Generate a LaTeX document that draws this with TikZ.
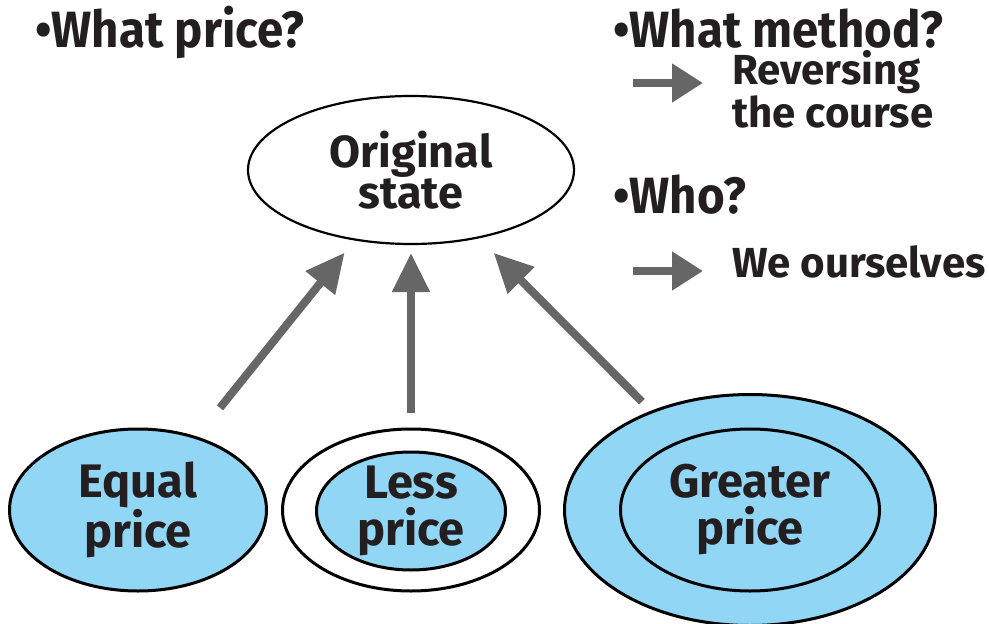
\documentclass[tikz,border=0pt]{standalone}
\usepackage{fontspec}
\setmainfont{Fira Sans}
\newfontfamily\headfont{Fira Sans}[FakeStretch=0.93]
\usetikzlibrary{arrows.meta,shapes.geometric}

\definecolor{inkdark}{HTML}{231F20}
\definecolor{arrowgray}{HTML}{666666}
\definecolor{bubbleblue}{HTML}{92D6F6}

\tikzset{
  bubble/.style={ellipse,draw=black,line width=3pt,inner sep=0pt},
  bubbletext/.style={font=\fontsize{47}{47}\selectfont\bfseries,text=inkdark,align=center,inner sep=0pt},
  headtext/.style={font=\headfont\fontsize{51}{51}\selectfont\bfseries,text=inkdark,inner sep=0pt,anchor=base west},
  answertext/.style={font=\fontsize{42}{39}\selectfont\bfseries,text=inkdark,align=left,inner sep=0pt,anchor=base west},
  fatarrow/.style={draw=arrowgray,line width=8pt,-{Triangle[width=36pt,length=39pt]}},
  thinarrow/.style={draw=arrowgray,line width=8pt,-{Triangle[width=37pt,length=31pt]}}
}

\begin{document}
\begin{tikzpicture}[x=1pt,y=-1pt]
\useasboundingbox (0,0) rectangle (989,624);
% questions
\node[headtext] (askprice) at (35,47) {\textbullet What price?};
\node[headtext] (askmethod) at (613,47) {\textbullet What method?};
\node[headtext] (askwho) at (613,213) {\textbullet Who?};
% base of a two-line node is its last line
\node[answertext] (method) at (732,127) {Reversing\\the course};
\node[answertext] (who) at (732,277) {We ourselves};
\coordinate (methodtail) at (633,83);
\coordinate (methodtip) at (703,83);
\coordinate (whotail) at (633,271);
\coordinate (whotip) at (703,271);
\draw[thinarrow] (methodtail) -- (methodtip);
\draw[thinarrow] (whotail) -- (whotip);
% top ellipse
\node[bubble,line width=2.2pt,minimum width=326pt,minimum height=148pt] (orig) at (411,170) {};
\node[bubbletext,font=\fontsize{45}{41}\selectfont\bfseries] (origtext) at (orig.center) {Original\\state};
% bottom ellipses
\node[bubble,fill=bubbleblue,minimum width=257pt,minimum height=162pt] (equal) at (138,510) {};
\node[bubble,fill=white,minimum width=257pt,minimum height=162pt] (lessout) at (411,510) {};
\node[bubble,fill=bubbleblue,minimum width=189pt,minimum height=118pt] (lessin) at (411,511) {};
\node[bubble,fill=bubbleblue,minimum width=371pt,minimum height=231pt] (greatout) at (750,510) {};
\node[bubble,fill=bubbleblue,minimum width=259pt,minimum height=162pt] (greatin) at (750,510) {};
\node[bubbletext] (equaltext) at (equal.center) {Equal\\price};
\node[bubbletext] (lesstext) at (lessin.center) {Less\\price};
\node[bubbletext] (greattext) at (greatin.center) {Greater\\price};
% arrows back to the original state
\draw[fatarrow,shorten <=131pt,shorten >=106pt] (equal.center) -- (orig.center);
\draw[fatarrow,shorten <=97pt,shorten >=83pt] (lessout.center) -- (orig.center);
\draw[fatarrow,shorten <=153pt,shorten >=117pt] (greatout.center) -- (orig.center);
\end{tikzpicture}
\end{document}
